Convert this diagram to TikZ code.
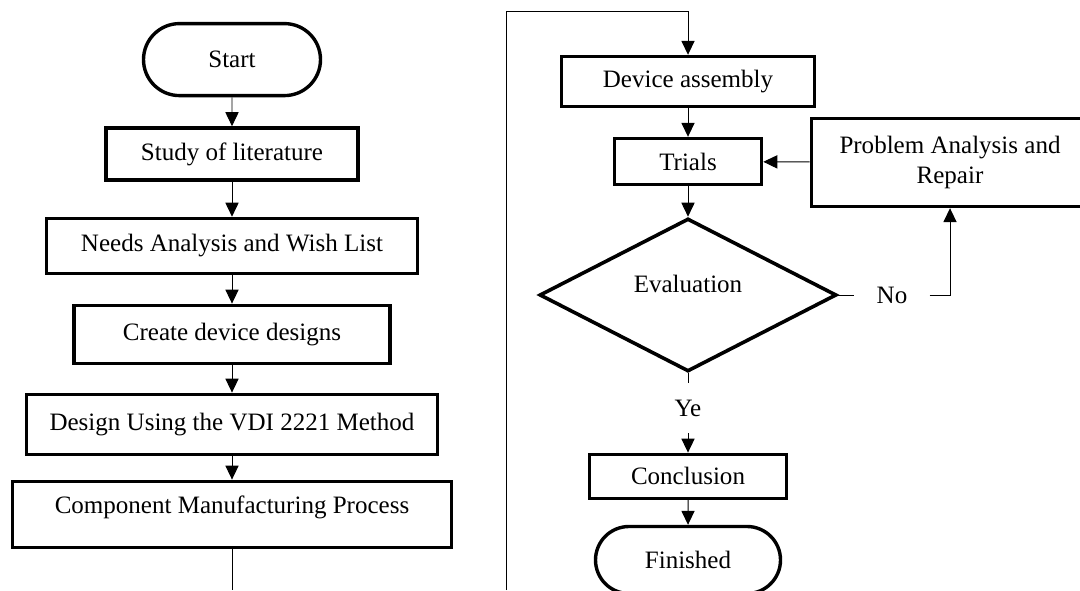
\documentclass[tikz,border=0pt]{standalone}
\usepackage{fontspec}
\setmainfont{Liberation Serif}
\usetikzlibrary{arrows.meta, shapes.geometric, shapes.misc}

\begin{document}
\begin{tikzpicture}[
    box/.style={rectangle, draw=black, line width=0.09cm, inner sep=0pt,
                font=\fontsize{17.8}{21.3}\selectfont},
    term/.style={rounded rectangle, draw=black, line width=0.085cm,
                 inner sep=0pt, font=\fontsize{17.8}{21.3}\selectfont},
    decision/.style={diamond, draw=black, line width=0.09cm, inner sep=0pt,
                     font=\fontsize{17.8}{21.3}\selectfont},
    tag/.style={inner sep=0pt, font=\fontsize{17.8}{21.3}\selectfont},
    arr/.style={-{Triangle[length=0.35cm, width=0.33cm]}, line width=0.7pt},
    conn/.style={line width=0.7pt}
  ]
    \path[use as bounding box, clip] (0,0) rectangle (27,14.75);

    %% Left column
    \node[term] (start) at (5.8, 13.26) [minimum width=4.425cm, minimum height=1.8cm] {Start};
    \node[box] (study) at (5.8, 10.9) [minimum width=6.3cm, minimum height=1.3cm] {Study of literature};
    \node[box] (needs) at (5.8, 8.6) [minimum width=9.275cm, minimum height=1.375cm] {Needs Analysis and Wish List};
    \node[box] (create) at (5.8, 6.39) [minimum width=7.9cm, minimum height=1.45cm] {Create device designs};
    \node[box] (vdi) at (5.8, 4.14) [minimum width=10.275cm, minimum height=1.5cm] {Design Using the VDI 2221 Method};
    \node[box, text depth=0.5cm] (manuf) at (5.8, 1.89) [minimum width=10.975cm, minimum height=1.65cm] {Component Manufacturing Process};
    \coordinate (leftend) at (5.8, 0);
    \draw[arr] (start) -- (study);
    \draw[arr] (study) -- (needs);
    \draw[arr] (needs) -- (create);
    \draw[arr] (create) -- (vdi);
    \draw[arr] (vdi) -- (manuf);
    \draw[conn] (manuf) -- (leftend);

    %% Right column
    \coordinate (loopbot) at (12.65, 0);
    \coordinate (looptop) at (12.65, 14.475);
    \node[box] (assembly) at (17.2, 12.71) [minimum width=6.325cm, minimum height=1.25cm] {Device assembly};
    \node[box] (trials) at (17.2, 10.71) [minimum width=3.675cm, minimum height=1.15cm] {Trials};
    \node[box, align=center] (repair) at (23.75, 10.69) [minimum width=6.925cm, minimum height=2.2cm] {Problem Analysis and\\Repair};
    \node[decision, text depth=0.55cm] (eval) at (17.2, 7.375) [minimum width=7.425cm, minimum height=3.825cm] {Evaluation};
    \node[tag, inner xsep=0.55cm] (no) at (22.3, 7.375) {No};
    \node[tag, minimum height=1.25cm] (ye) at (17.2, 4.55) {Ye};
    \node[box] (concl) at (17.2, 2.84) [minimum width=4.925cm, minimum height=1.1cm] {Conclusion};
    \node[term] (finish) at (17.2, 0.75) [minimum width=4.625cm, minimum height=1.675cm] {Finished};

    \draw[arr] (loopbot) -- (looptop) -| (assembly);
    \draw[arr] (assembly) -- (trials);
    \draw[arr] (trials) -- (eval);
    \draw[arr] (repair) -- (trials);
    \draw[conn] (eval.east) -- (no.west);
    \draw[arr] (no.east) -| (repair.south);
    \draw[conn] (eval.south) -- (ye.north);
    \draw[arr] (ye.south) -- (concl.north);
    \draw[arr] (concl) -- (finish);
\end{tikzpicture}
\end{document}
